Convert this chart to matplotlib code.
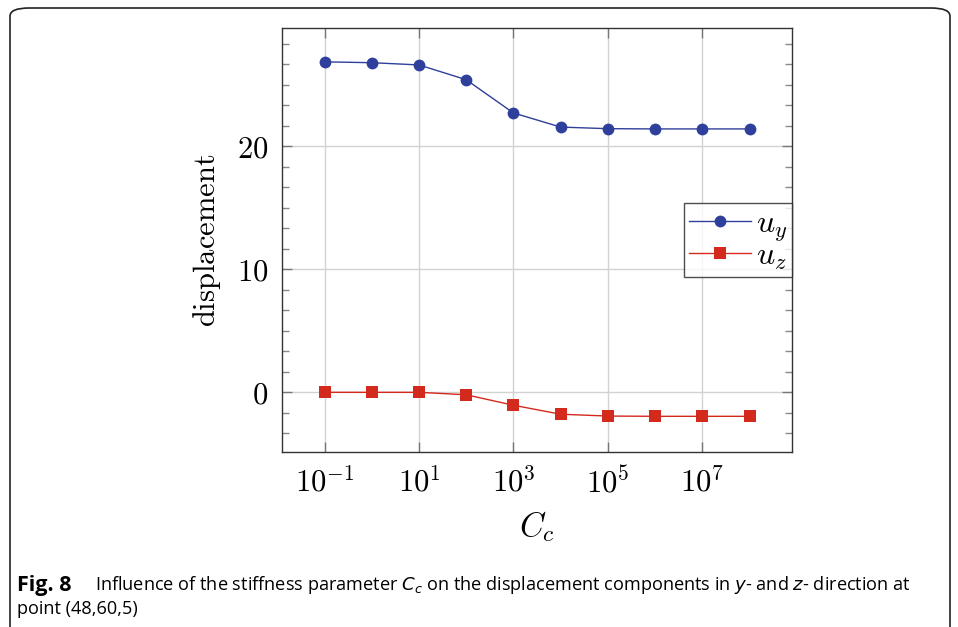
import matplotlib
matplotlib.use("Agg")
import matplotlib.pyplot as plt
from matplotlib.ticker import FixedLocator, MultipleLocator, NullLocator
from matplotlib.patches import FancyBboxPatch
import numpy as np

cc_values = [1e-1, 1e0, 1e1, 1e2, 1e3, 1e4, 1e5, 1e6, 1e7, 1e8]
u_y = [26.85, 26.78, 26.6, 25.4, 22.7, 21.55, 21.42, 21.4, 21.4, 21.4]
u_z = [0.0, 0.0, 0.0, -0.2, -1.05, -1.78, -1.93, -1.95, -1.95, -1.95]
x_ticks = [1e-1, 1e1, 1e3, 1e5, 1e7]
x_ticklabels = [r"$10^{-1}$", r"$10^{1}$", r"$10^{3}$", r"$10^{5}$", r"$10^{7}$"]
y_ticks = [0, 10, 20]
caption_bold = "Fig. 8"
caption_rest = "Influence of the stiffness parameter $C_c$ on the displacement components in $y$- and $z$- direction at"
caption_line2 = "point (48,60,5)"

plt.rcParams["mathtext.fontset"] = "cm"

fig = plt.figure(figsize=(9.58, 6.27), dpi=100)
ax = fig.add_axes([282/958, 175/627, 510/958, 424/627])

blue = "#2f3f9c"
red = "#d42a1e"
ax.plot(cc_values, u_y, "-o", color=blue, lw=1.0, markersize=8.5, markeredgewidth=0, label=r"$u_y$", zorder=3)
ax.plot(cc_values, u_z, "-s", color=red, lw=1.0, markersize=8, markeredgewidth=0, label=r"$u_z$", zorder=3)

ax.set_xscale("log")
ax.set_xlim(10**-1.9, 10**8.9)
ax.set_ylim(-4.85, 29.6)
ax.xaxis.set_major_locator(FixedLocator(x_ticks))
ax.set_xticklabels(x_ticklabels)
ax.xaxis.set_minor_locator(NullLocator())
ax.yaxis.set_major_locator(FixedLocator(y_ticks))
ax.set_yticklabels([rf"${v}$" for v in y_ticks])
ax.yaxis.set_minor_locator(MultipleLocator(10/6))

ax.grid(True, which="major", color="#d2d2d2", lw=1.0, zorder=0)
ax.set_axisbelow(True)
ax.tick_params(which="major", direction="in", length=7, width=1, color="#777777",
               top=True, right=True, labelsize=22, pad=10)
ax.tick_params(which="minor", direction="in", length=5, width=1, color="#888888",
               top=True, right=True)
for s in ax.spines.values():
    s.set_color("#333333")
    s.set_linewidth(1.0)

ax.set_xlabel(r"$C_c$", fontsize=24, labelpad=8)
ax.set_ylabel(r"$\mathrm{displacement}$", fontsize=22, labelpad=10)

leg = ax.legend(loc="center right", bbox_to_anchor=(1.0, 0.5), borderaxespad=0,
                fontsize=23, frameon=True, fancybox=False, edgecolor="#222222",
                handlelength=1.95, handletextpad=0.15, borderpad=0.15, labelspacing=-0.1)
leg.get_frame().set_linewidth(1.0)

# outer rounded frame
frame = FancyBboxPatch((10/958, -0.2), 940/958, (627-8)/627 + 0.2,
                       boxstyle="round,pad=0,rounding_size=0.02",
                       transform=fig.transFigure, fill=False, edgecolor="#222222",
                       lw=1.2, mutation_aspect=627/958)
fig.patches.append(frame)

fig.text(17/958, 1 - 585/627, caption_bold, fontsize=15.5, fontweight="bold",
         family="Open Sans", va="center", ha="left")
fig.text(95/958, 1 - 585/627, caption_rest, fontsize=13.1,
         family="Open Sans", va="center", ha="left", math_fontfamily="dejavusans")
fig.text(17/958, 1 - 609/627, caption_line2, fontsize=13.1,
         family="Open Sans", va="center", ha="left")

fig.savefig("out.png", dpi=100)
